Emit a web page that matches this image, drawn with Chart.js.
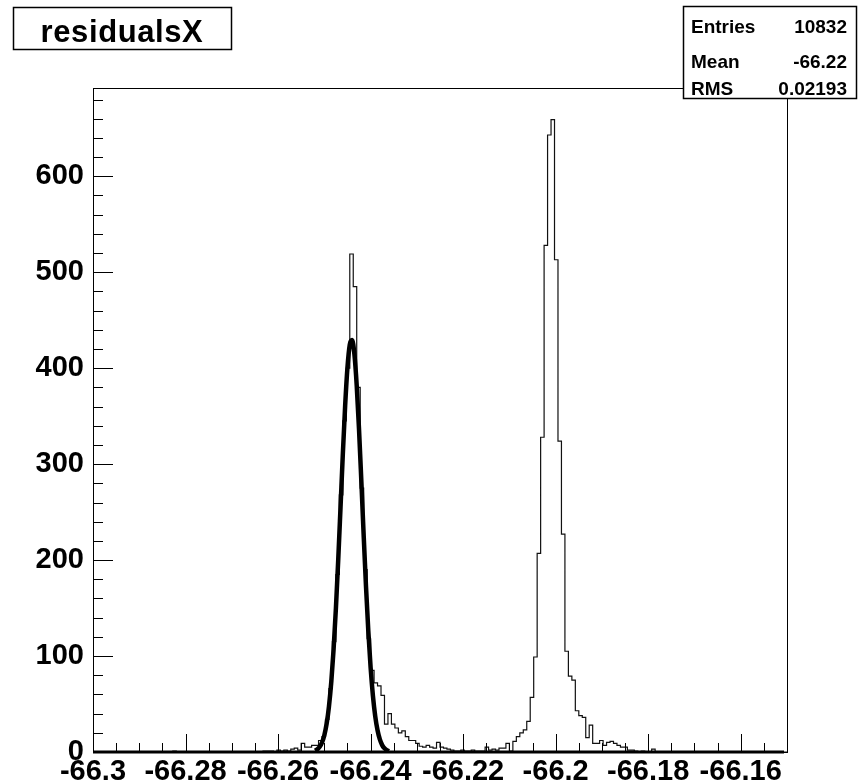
<!DOCTYPE html>
<html><head><meta charset="utf-8">
<script src="https://cdn.jsdelivr.net/npm/chart.js@4.4.1/dist/chart.umd.min.js"></script>
<style>html,body{margin:0;padding:0;background:#fff;}#wrap{width:858px;height:784px;}</style>
</head><body><div id="wrap"><canvas id="c" width="858" height="784"></canvas></div>
<script>
// ---- data ----
const histMin = -66.3;
const histMax = -66.15;
const nBins = 200;
const counts = [
  0,0,0,0,0,0,0,0,0,0, 0,0,0,0,0,0,0,0,0,0,
  0,0,0,1,0,0,0,0,0,0, 0,0,0,0,0,0,0,0,0,0,
  0,0,0,0,0,0,0,0,0,1, 1,1,0,2,1,2,1,3,4,2,
  9,5,5,7,7,12,16,34,66,115, 185,268,345,400,519,485,380,275,190,118,
  85,72,69,59,29,40,29,25,20,22, 16,12,12,9,6,5,7,5,4,10,
  5,4,3,2,1,1,2,1,1,2, 1,1,1,5,2,3,2,4,4,9,
  1,11,16,20,23,32,57,99,207,328, 528,643,659,513,324,227,105,79,75,43,
  38,36,15,28,9,9,12,7,10,11, 9,7,5,5,2,2,1,0,1,0,
  0,3,0,0,0,0,0,0,0,0, 0,0,0,0,0,0,0,0,0,0,
  0,0,0,0,0,0,0,0,0,0, 0,0,0,0,0,0,0,0,0,0
];
const fitX = [-66.252,-66.2515,-66.251,-66.2505,-66.25,-66.2495,-66.249,-66.2485,-66.248,-66.2475,-66.247,-66.2465,-66.246,-66.2455,-66.245,-66.2445,-66.244,-66.2435,-66.243,-66.2425,-66.242,-66.2415,-66.241,-66.2405,-66.24,-66.2395,-66.239,-66.2385,-66.238,-66.2375,-66.237,-66.2365,-66.236];
const fitY = [1.4,2.8,5.4,9.9,17.5,29.5,47.5,72.9,107,149.7,200,255,310.8,361,400.8,424.6,429.3,414.4,381.9,336,282,226,173,126.4,88.1,58.7,37.3,22.6,13.1,7.2,3.8,1.9,0.9];
const xTickValues = [-66.3,-66.28,-66.26,-66.24,-66.22,-66.2,-66.18,-66.16];
const xTickLabels = ['-66.3','-66.28','-66.26','-66.24','-66.22','-66.2','-66.18','-66.16'];
const yTickValues = [0,100,200,300,400,500,600];
const yTickLabels = ['0','100','200','300','400','500','600'];
const yMax = 692;
const titleText = 'residualsX';
const statsLabels = ['Entries','Mean','RMS'];
const statsValues = ['10832','-66.22','0.02193'];

// ---- build histogram step points (left bin edges) ----
const binW = (histMax - histMin) / nBins;
const histPts = counts.map((c, i) => ({x: histMin + i * binW, y: c}));
histPts.push({x: histMax, y: counts[counts.length - 1]});
const fitPts = fitX.map((x, i) => ({x: x, y: fitY[i]}));

const FONT = "'Liberation Sans', Arial, Helvetica, sans-serif";

const rootDecor = {
  id: 'rootDecor',
  afterDatasetsDraw(chart) {
    const ctx = chart.ctx, a = chart.chartArea;
    const xs = chart.scales.x, ys = chart.scales.y;
    ctx.save();
    ctx.strokeStyle = '#000';
    ctx.lineWidth = 1;
    ctx.strokeRect(Math.round(a.left) + 0.5, Math.round(a.top) + 0.5, Math.round(a.right - a.left), Math.round(a.bottom - a.top));
    // thick baseline
    ctx.lineWidth = 3;
    ctx.beginPath();
    ctx.moveTo(a.left, Math.round(a.bottom));
    ctx.lineTo(a.right - 3, Math.round(a.bottom));
    ctx.stroke();
    // y ticks (inside)
    ctx.lineWidth = 1;
    ctx.beginPath();
    for (let k = 0; k * 20 <= yMax; k++) {
      const py = Math.round(ys.getPixelForValue(k * 20)) + 0.5;
      const len = (k % 5 === 0) ? 20 : 10;
      ctx.moveTo(a.left, py);
      ctx.lineTo(a.left + len, py);
    }
    // x ticks (inside)
    for (let k = 0; k <= 30; k++) {
      const px = Math.round(xs.getPixelForValue(histMin + k * 0.005)) + 0.5;
      const len = (k % 4 === 0) ? 18 : 9;
      ctx.moveTo(px, a.bottom);
      ctx.lineTo(px, a.bottom - len);
    }
    ctx.stroke();
    ctx.restore();
  },
  afterDraw(chart) {
    const ctx = chart.ctx;
    ctx.save();
    // title box
    ctx.fillStyle = '#fff';
    ctx.fillRect(13, 7, 218, 42);
    ctx.strokeStyle = '#000';
    ctx.lineWidth = 1.5;
    ctx.strokeRect(13.5, 7.5, 218, 42);
    ctx.fillStyle = '#000';
    ctx.font = 'bold 31px ' + FONT;
    try { ctx.letterSpacing = '0.6px'; } catch (e) {}
    ctx.textAlign = 'center';
    ctx.textBaseline = 'alphabetic';
    ctx.fillText(titleText, 122, 42);
    try { ctx.letterSpacing = '0px'; } catch (e) {}
    // stats box
    ctx.fillStyle = '#fff';
    ctx.fillRect(683, 6, 173, 93);
    ctx.lineWidth = 1.5;
    ctx.strokeRect(683.5, 6.5, 173, 92);
    ctx.fillStyle = '#000';
    ctx.font = 'bold 19px ' + FONT;
    const bl = [33, 68, 94.5];
    for (let i = 0; i < statsLabels.length; i++) {
      ctx.textAlign = 'left';
      ctx.fillText(statsLabels[i], 691, bl[i]);
      ctx.textAlign = 'right';
      ctx.fillText(statsValues[i], 847, bl[i]);
    }
    ctx.restore();
  }
};

new Chart(document.getElementById('c'), {
  type: 'line',
  data: {
    datasets: [
      {label: 'fit', data: fitPts, borderColor: '#000', borderWidth: 4.5, pointRadius: 0, cubicInterpolationMode: 'monotone', fill: false, order: 0},
      {label: 'residualsX', data: histPts, borderColor: '#111', borderWidth: 1.2, pointRadius: 0, stepped: true, fill: false, order: 1}
    ]
  },
  options: {
    responsive: false,
    animation: false,
    devicePixelRatio: 1,
    layout: {padding: {top: 88, right: 71, left: 0, bottom: 0}},
    plugins: {legend: {display: false}, tooltip: {enabled: false}, title: {display: false}},
    scales: {
      x: {
        type: 'linear', min: histMin, max: histMax,
        afterBuildTicks: s => { s.ticks = xTickValues.map(v => ({value: v})); },
        afterFit: s => { s.height = 32; },
        grid: {display: false, drawTicks: false},
        border: {display: false},
        ticks: {callback: (v, i) => xTickLabels[i], autoSkip: false, maxRotation: 0, minRotation: 0, padding: 3,
                color: '#000', font: {family: FONT, weight: 'bold', size: 29}}
      },
      y: {
        type: 'linear', min: 0, max: yMax,
        afterBuildTicks: s => { s.ticks = yTickValues.map(v => ({value: v})); },
        afterFit: s => { s.width = 93; },
        grid: {display: false, drawTicks: false},
        border: {display: false},
        ticks: {callback: (v, i) => yTickLabels[i], autoSkip: false, padding: 9,
                color: '#000', font: {family: FONT, weight: 'bold', size: 29}}
      }
    }
  },
  plugins: [rootDecor]
});
</script>
</body></html>
